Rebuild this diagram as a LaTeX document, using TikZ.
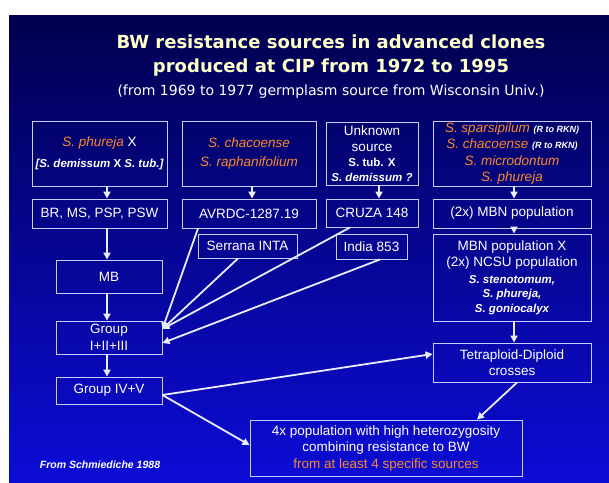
\documentclass[tikz,border=0pt]{standalone}
\usepackage{fontspec}
\setmainfont{Liberation Sans}
\newfontfamily\titlefont{DejaVu Sans}
\usepackage{tikz}
\usetikzlibrary{calc}
\usetikzlibrary{shapes,arrows.meta}

\definecolor{bgtop}{RGB}{0,0,78}
\definecolor{bgbot}{RGB}{12,12,215}
\definecolor{edgecol}{RGB}{200,205,255}
\definecolor{arrowcol}{RGB}{235,235,255}
\definecolor{spec}{RGB}{250,135,45}
\definecolor{titlecol}{RGB}{255,255,200}

\newcommand{\bodyfont}{\fontsize{13.5}{16.5}\selectfont}
\newcommand{\sppname}[1]{\textcolor{spec}{\textit{#1}}}
\newcommand{\smallbi}[1]{{\fontsize{11.5}{14}\selectfont\bfseries\itshape #1}}
\newcommand{\smallb}[1]{{\fontsize{11.5}{14}\selectfont\bfseries #1}}
\newcommand{\rtorkn}{{\fontsize{9}{10}\selectfont\bfseries\itshape\color{white}(R to RKN)}}

\begin{document}
\begin{tikzpicture}[x=1pt,y=-1pt,
    box/.style={draw=edgecol,line width=0.9pt,inner sep=0pt,align=center,text=white,font=\bodyfont},
    link/.style={draw=arrowcol,line width=1.8pt,-{Triangle[length=7pt,width=7pt]}}]
    \useasboundingbox (0,0) rectangle (609,482);
    \fill [white] (0,0) rectangle (609,482);
    \shade [top color=bgtop,bottom color=bgbot] (9,15) rectangle (609,482);

    % title
    \node [text=titlecol,font=\titlefont\bfseries\fontsize{18}{20}\selectfont] (t1) at (331,42) {BW resistance sources in advanced clones};
    \node [text=titlecol,font=\titlefont\bfseries\fontsize{18}{20}\selectfont] (t2) at (331,68) {produced at CIP from 1972 to 1995};
    \node [text=white,font=\titlefont\fontsize{14}{16}\selectfont] (t3) at (331,92) {(from 1969 to 1977 germplasm source from Wisconsin Univ.)};

    % columns of the vertical links
    \coordinate (lcol) at (107,0);
    \coordinate (ccol) at (252,0);
    \coordinate (ucol) at (379,0);
    \coordinate (rcol) at (514,0);

    \node [box,minimum width=135,minimum height=65] (ph) at (99.5,153.5) {\sppname{S. phureja} X\\[4pt]\smallbi{[S. demissum \textup{X} S. tub.]}};
    \node [box,minimum width=134,minimum height=65] (ch) at (249,153.5) {\sppname{S. chacoense}\\[2pt]\sppname{S. raphanifolium}};
    \node [box,minimum width=92,minimum height=63] (uk) at (372,153.5) {Unknown\\[-1pt]source\\[-1pt]\smallb{S. tub. X}\\[-2pt]\smallbi{S. demissum ?}};
    \node [box,minimum width=158,minimum height=65] (sp) at (512,153.5) {\sppname{S. sparsipilum} \rtorkn\\\sppname{S. chacoense} \rtorkn\\\sppname{S. microdontum}\\\sppname{S. phureja}};

    \node [box,minimum width=135,minimum height=29] (br) at (99.5,213.5) {BR, MS, PSP, PSW};
    \node [box,minimum width=134,minimum height=29] (av) at (249,213.5) {AVRDC-1287.19};
    \node [box,minimum width=92,minimum height=28] (cr) at (372,213) {CRUZA 148};
    \node [box,minimum width=158,minimum height=29] (mbn) at (512,213.5) {(2x) MBN population};

    \node [box,minimum width=99,minimum height=24] (se) at (247.5,246) {Serrana INTA};
    \node [box,minimum width=71,minimum height=25] (ind) at (371.5,246.5) {India 853};
    \node [box,minimum width=158,minimum height=87] (mx) at (512,277.5) {MBN population X\\(2x) NCSU population\\\smallbi{S. stenotomum,}\\[-2pt]\smallbi{S. phureja,}\\[-2pt]\smallbi{S. goniocalyx}};

    \node [box,minimum width=106,minimum height=33] (mb) at (109,276.5) {MB};
    \node [box,minimum width=106,minimum height=33] (gi) at (109,337.5) {Group\\I+II+III};
    \node [box,minimum width=106,minimum height=27] (g4) at (109,390.5) {Group IV+V};
    \node [box,minimum width=158,minimum height=39] (td) at (512,362.5) {Tetraploid-Diploid\\crosses};
    \node [box,minimum width=272,minimum height=56] (fx) at (386,448) {4x population with high heterozygosity\\combining resistance to BW\\\textcolor{spec}{from at least 4 specific sources}};

    \node [text=white,font=\fontsize{10.5}{12}\selectfont\bfseries\itshape] (src) at (100,465) {From Schmiediche 1988};

    % vertical links
    \draw [link] (ph.south -| lcol)--(br.north -| lcol);
    \draw [link] (br.south -| lcol)--(mb.north -| lcol);
    \draw [link] (mb.south -| lcol)--(gi.north -| lcol);
    \draw [link] (gi.south -| lcol)--(g4.north -| lcol);
    \draw [link] (ch.south -| ccol)--(av.north -| ccol);
    \draw [link] (uk.south -| ucol)--(cr.north -| ucol);
    \draw [link] (sp.south -| rcol)--(mbn.north -| rcol);
    \draw [link] (mbn.south -| rcol)--(mx.north -| rcol);
    \draw [link] (mx.south -| rcol)--(td.north -| rcol);

    % links into Group I+II+III
    \coordinate (giup) at ([yshift=8.5pt]gi.east);
    \coordinate (gilo) at ([yshift=-5.5pt]gi.east);
    \draw [link] ([xshift=-51pt]av.south)--(giup);
    \draw [link] ([xshift=-9.5pt]se.south)--(giup);
    \draw [link] ([xshift=-22pt]cr.south)--(giup);
    \draw [link] ([xshift=8.5pt]ind.south)--(gilo);

    % links to the crosses
    \coordinate (g4out) at ([yshift=-4.5pt]g4.east);
    \draw [link] (g4out)--([yshift=8.5pt]td.west);
    \draw [link] (g4out)--([yshift=3pt]fx.west);
    \draw [link] ([xshift=5pt]td.south)--([xshift=91pt]fx.north);
\end{tikzpicture}
\end{document}
